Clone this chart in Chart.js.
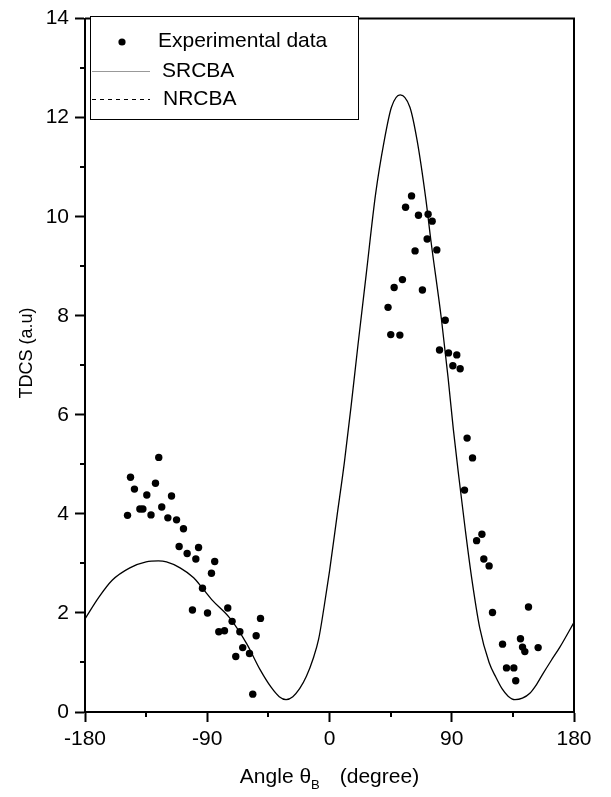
<!DOCTYPE html>
<html>
<head>
<meta charset="utf-8">
<script src="https://cdn.jsdelivr.net/npm/chart.js@4.4.0/dist/chart.umd.min.js"></script>
<style>
  html, body { margin: 0; padding: 0; background: #fff; }
  #wrap { width: 611px; height: 797px; }
</style>
</head>
<body>
<div id="wrap"><canvas id="tdcsChart" width="611" height="797"></canvas></div>
<script>
const expAngle = [
  -148.7, -146.5, -143.6, -139.6, -137.4, -134.5, -131.4, -128.1, -125.7, -123.5,
  -119.0, -116.3, -112.6, -107.5, -110.7, -104.8, -98.4, -96.4, -84.5, -86.9,
  -93.5, -100.9, -89.8, -74.9, -71.7, -81.5, -77.3, -66.0, -50.8, -54.0,
  -63.9, -58.9, -69.0, -56.5,
  60.4, 56.0, 65.5, 72.6, 75.6, 71.9, 79.0, 63.0, 53.7, 47.6,
  68.4, 43.1, 85.2, 45.1, 51.8, 81.0, 87.6, 93.7, 90.8, 96.2,
  101.3, 105.3, 99.4, 112.2, 108.3, 113.6, 117.5, 120.0, 146.5, 127.4,
  140.6, 142.1, 143.8, 153.6, 130.3, 135.7, 137.1
];
const expTdcs = [
  3.97, 4.74, 4.50, 4.10, 4.10, 4.38, 3.98, 4.62, 5.14, 4.14,
  3.92, 4.36, 3.88, 3.70, 3.34, 3.20, 3.09, 3.32, 3.04, 2.80,
  2.50, 2.06, 2.00, 2.10, 1.83, 1.62, 1.64, 1.62, 1.89, 1.54,
  1.30, 1.18, 1.12, 0.36,
  10.42, 10.19, 10.03, 10.05, 9.91, 9.55, 9.33, 9.31, 8.73, 8.57,
  8.52, 8.17, 7.91, 7.62, 7.61, 7.31, 7.25, 7.21, 6.99, 6.93,
  5.53, 5.13, 4.48, 3.59, 3.46, 3.09, 2.95, 2.01, 2.12, 1.37,
  1.48, 1.31, 1.22, 1.30, 0.89, 0.89, 0.63
];

// SRCBA theory curve, sampled from the figure
const theoryAngle = [
  -180, -170, -160, -147, -135, -126, -120, -110, -100, -93.5,
  -86, -73.5, -61, -51, -43, -37, -32, -27, -22, -17,
  -12, -8, -4, 0, 5.5, 11, 16, 21, 27, 34,
  40.2, 45.6, 52, 59.2, 64.5, 71, 74.6, 82.5, 87.3, 91.2,
  95.2, 100.1, 104.6, 110.6, 117.5, 122.5, 127, 131.5, 136.5, 142,
  147.5, 152.5, 157.3, 163, 169.6, 180
];
const srcbaTdcs = [
  1.88, 2.31, 2.66, 2.91, 3.03, 3.05, 3.03, 2.91, 2.71, 2.50,
  2.25, 1.90, 1.38, 0.85, 0.50, 0.31, 0.25, 0.31, 0.47, 0.72,
  1.08, 1.47, 2.12, 2.84, 3.95, 5.05, 6.20, 7.42, 8.83, 10.47,
  11.52, 12.21, 12.46, 12.21, 11.54, 10.34, 9.53, 7.91, 6.75, 5.70,
  4.75, 3.65, 2.72, 1.70, 1.00, 0.70, 0.47, 0.32, 0.25, 0.28,
  0.38, 0.56, 0.78, 1.03, 1.31, 1.81
];

const xTicks = [-180, -90, 0, 90, 180];
const xMinorTicks = [-135, -45, 45, 135];
const yTicks = [0, 2, 4, 6, 8, 10, 12, 14];
const yMinorTicks = [1, 3, 5, 7, 9, 11, 13];

const FONT = "'Liberation Sans', Arial, Helvetica, sans-serif";

function toPoints(xs, ys) {
  return xs.map((x, i) => ({ x: x, y: ys[i] }));
}

// frame, minor ticks, axis titles and the boxed legend
const decorPlugin = {
  id: "decor",
  afterDraw(chart) {
    const { ctx, chartArea: a, scales } = chart;
    ctx.save();
    ctx.strokeStyle = "#000";
    ctx.lineWidth = 2;
    ctx.beginPath();
    ctx.moveTo(a.left, a.top);
    ctx.lineTo(a.right, a.top);
    ctx.lineTo(a.right, a.bottom);
    ctx.stroke();

    // minor ticks
    ctx.beginPath();
    xMinorTicks.forEach((v) => {
      const px = Math.round(scales.x.getPixelForValue(v));
      ctx.moveTo(px, a.bottom);
      ctx.lineTo(px, a.bottom + 5);
    });
    yMinorTicks.forEach((v) => {
      const py = Math.round(scales.y.getPixelForValue(v));
      ctx.moveTo(a.left, py);
      ctx.lineTo(a.left - 5, py);
    });
    ctx.stroke();

    // x axis title with subscript
    ctx.fillStyle = "#000";
    ctx.textBaseline = "alphabetic";
    ctx.textAlign = "left";
    const mainFont = "21px " + FONT;
    const subFont = "13px " + FONT;
    const part1 = "Angle \u03b8";
    const part2 = "(degree)";
    ctx.font = mainFont;
    const w1 = ctx.measureText(part1).width;
    const w3 = ctx.measureText(part2).width;
    ctx.font = subFont;
    const w2 = ctx.measureText("B").width;
    const gap = 20;
    const total = w1 + w2 + gap + w3;
    let tx = (a.left + a.right) / 2 - total / 2;
    const baseY = 783;
    ctx.font = mainFont;
    ctx.fillText(part1, tx, baseY);
    ctx.font = subFont;
    ctx.fillText("B", tx + w1, baseY + 6);
    ctx.font = mainFont;
    ctx.fillText(part2, tx + w1 + w2 + gap, baseY);

    // y axis title
    ctx.save();
    ctx.translate(27, 353);
    ctx.rotate(-Math.PI / 2);
    ctx.textAlign = "center";
    ctx.textBaseline = "middle";
    ctx.font = "18px " + FONT;
    ctx.fillText("TDCS (a.u)", 0, 0);
    ctx.restore();

    // legend box
    const ds = chart.data.datasets;
    ctx.lineWidth = 1;
    ctx.strokeStyle = "#000";
    ctx.fillStyle = "#fff";
    ctx.fillRect(90.5, 16.5, 268, 103);
    ctx.strokeRect(90.5, 16.5, 268, 103);

    ctx.fillStyle = "#000";
    ctx.beginPath();
    ctx.arc(122, 42, 3.6, 0, Math.PI * 2);
    ctx.fill();

    ctx.strokeStyle = "#999";
    ctx.beginPath();
    ctx.moveTo(92, 71.5);
    ctx.lineTo(150, 71.5);
    ctx.stroke();

    ctx.strokeStyle = "#000";
    ctx.setLineDash([4, 4]);
    ctx.beginPath();
    ctx.moveTo(92, 99.5);
    ctx.lineTo(150, 99.5);
    ctx.stroke();
    ctx.setLineDash([]);

    ctx.font = "21px " + FONT;
    ctx.textAlign = "left";
    ctx.textBaseline = "middle";
    ctx.fillText(ds[0].label, 158, 41);
    ctx.fillText(ds[1].label, 162, 71);
    ctx.fillText(ds[2].label, 163, 99);
    ctx.restore();
  },
};

new Chart(document.getElementById("tdcsChart"), {
  type: "scatter",
  data: {
    datasets: [
      {
        label: "Experimental data",
        data: toPoints(expAngle, expTdcs),
        showLine: false,
        pointRadius: 3.7,
        pointBackgroundColor: "#000",
        pointBorderWidth: 0,
      },
      {
        label: "SRCBA",
        data: toPoints(theoryAngle, srcbaTdcs),
        showLine: true,
        borderColor: "#000",
        borderWidth: 1.3,
        pointRadius: 0,
        cubicInterpolationMode: "monotone",
      },
      {
        label: "NRCBA",
        data: [],
        showLine: true,
        borderColor: "#000",
        borderWidth: 1,
        borderDash: [4, 4],
        pointRadius: 0,
      },
    ],
  },
  options: {
    responsive: false,
    animation: false,
    devicePixelRatio: 1,
    layout: { padding: { top: 13, right: 37, left: 0, bottom: 0 } },
    plugins: {
      legend: { display: false },
      tooltip: { enabled: false },
    },
    scales: {
      x: {
        type: "linear",
        min: -180,
        max: 180,
        afterBuildTicks: (s) => {
          s.ticks = xTicks.map((v) => ({ value: v }));
        },
        afterFit: (s) => {
          s.height = 85;
        },
        ticks: {
          color: "#000",
          font: { family: FONT, size: 21 },
          padding: 5,
          maxRotation: 0,
        },
        grid: {
          drawOnChartArea: false,
          tickLength: 10,
          tickWidth: 2,
          tickColor: "#000",
        },
        border: { display: true, color: "#000", width: 2 },
      },
      y: {
        type: "linear",
        min: 0,
        max: 14,
        afterBuildTicks: (s) => {
          s.ticks = yTicks.map((v) => ({ value: v }));
        },
        afterFit: (s) => {
          s.width = 85;
        },
        ticks: {
          color: "#000",
          font: { family: FONT, size: 21 },
          padding: 6,
        },
        grid: {
          drawOnChartArea: false,
          tickLength: 10,
          tickWidth: 2,
          tickColor: "#000",
        },
        border: { display: true, color: "#000", width: 2 },
      },
    },
  },
  plugins: [decorPlugin],
});
</script>
</body>
</html>
